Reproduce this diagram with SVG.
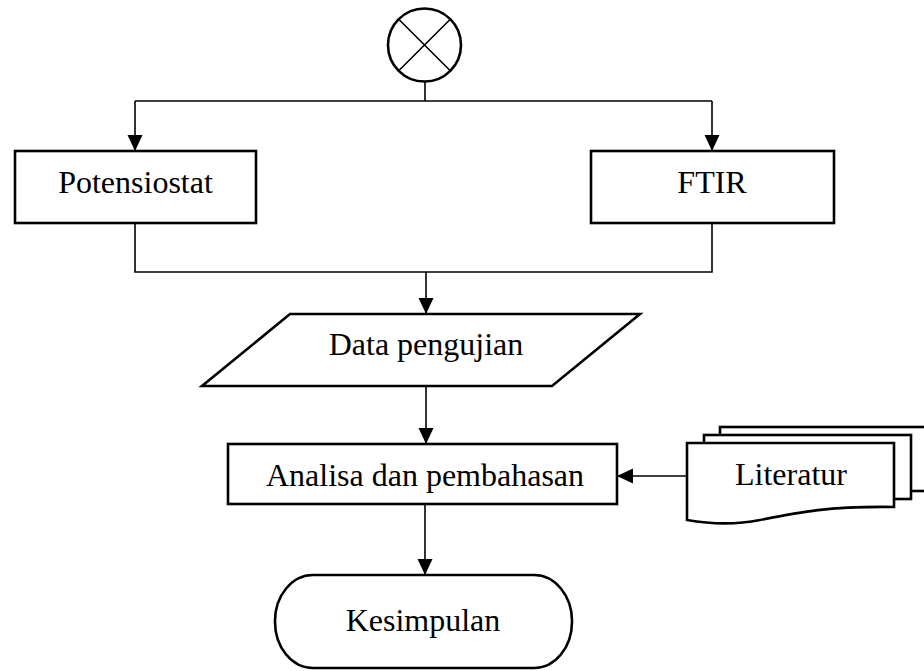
<svg xmlns="http://www.w3.org/2000/svg" width="924" height="671" viewBox="0 0 924 671">
  <defs>
    <marker id="arrow" markerUnits="userSpaceOnUse" markerWidth="16" markerHeight="16" viewBox="0 0 16 16" refX="16" refY="8" orient="auto">
      <path d="M0,0.5 L16,8 L0,15.5 Z" fill="#000"/>
    </marker>
    <style>
      .shape { fill: #fff; stroke: #000; stroke-width: 2.6; stroke-linejoin: miter; }
      .link { fill: none; stroke: #000; stroke-width: 1.6; }
      .label { font-family: "Liberation Serif", "Times New Roman", serif; font-size: 32px; fill: #000; text-anchor: middle; }
    </style>
  </defs>

  <rect width="924" height="671" fill="#fff"/>

  <!-- connectors -->
  <g id="connectors">
    <path class="link" d="M425,82 V101"/>
    <path class="link" d="M135,101 H712"/>
    <path class="link" d="M135,101 V151" marker-end="url(#arrow)"/>
    <path class="link" d="M712,101 V151" marker-end="url(#arrow)"/>
    <path class="link" d="M135,223 V272 H712 V223"/>
    <path class="link" d="M426,272 V314" marker-end="url(#arrow)"/>
    <path class="link" d="M426,386 V444" marker-end="url(#arrow)"/>
    <path class="link" d="M687,476 H617" marker-end="url(#arrow)"/>
    <path class="link" d="M425,504 V575" marker-end="url(#arrow)"/>
  </g>

  <!-- start connector symbol -->
  <g id="start">
    <circle class="shape" cx="424.5" cy="45" r="36.5"/>
    <path class="link" stroke-width="2.4" d="M398.7,19.2 L450.3,70.8 M450.3,19.2 L398.7,70.8"/>
  </g>

  <g id="potensiostat">
    <rect class="shape" x="15" y="151" width="241" height="72"/>
    <text class="label" x="135.5" y="193">Potensiostat</text>
  </g>

  <g id="ftir">
    <rect class="shape" x="591" y="151" width="243" height="72"/>
    <text class="label" x="712" y="193">FTIR</text>
  </g>

  <g id="data-pengujian">
    <polygon class="shape" points="290,314 640,314 552,386 202,386"/>
    <text class="label" x="426" y="355">Data pengujian</text>
  </g>

  <g id="analisa">
    <rect class="shape" x="228" y="444" width="389" height="60"/>
    <text class="label" x="425" y="486">Analisa dan pembahasan</text>
  </g>

  <g id="literatur">
    <rect class="shape" x="720" y="427" width="230" height="64"/>
    <rect class="shape" x="704" y="435" width="207" height="64"/>
    <path class="shape" d="M687,443 H894 V507 C830,506 800,512 760,520 C735,525 710,524 687,520 Z"/>
    <text class="label" x="791" y="485">Literatur</text>
  </g>

  <g id="kesimpulan">
    <rect class="shape" x="275" y="575" width="297" height="93" rx="38" ry="46"/>
    <text class="label" x="423" y="631">Kesimpulan</text>
  </g>
</svg>
